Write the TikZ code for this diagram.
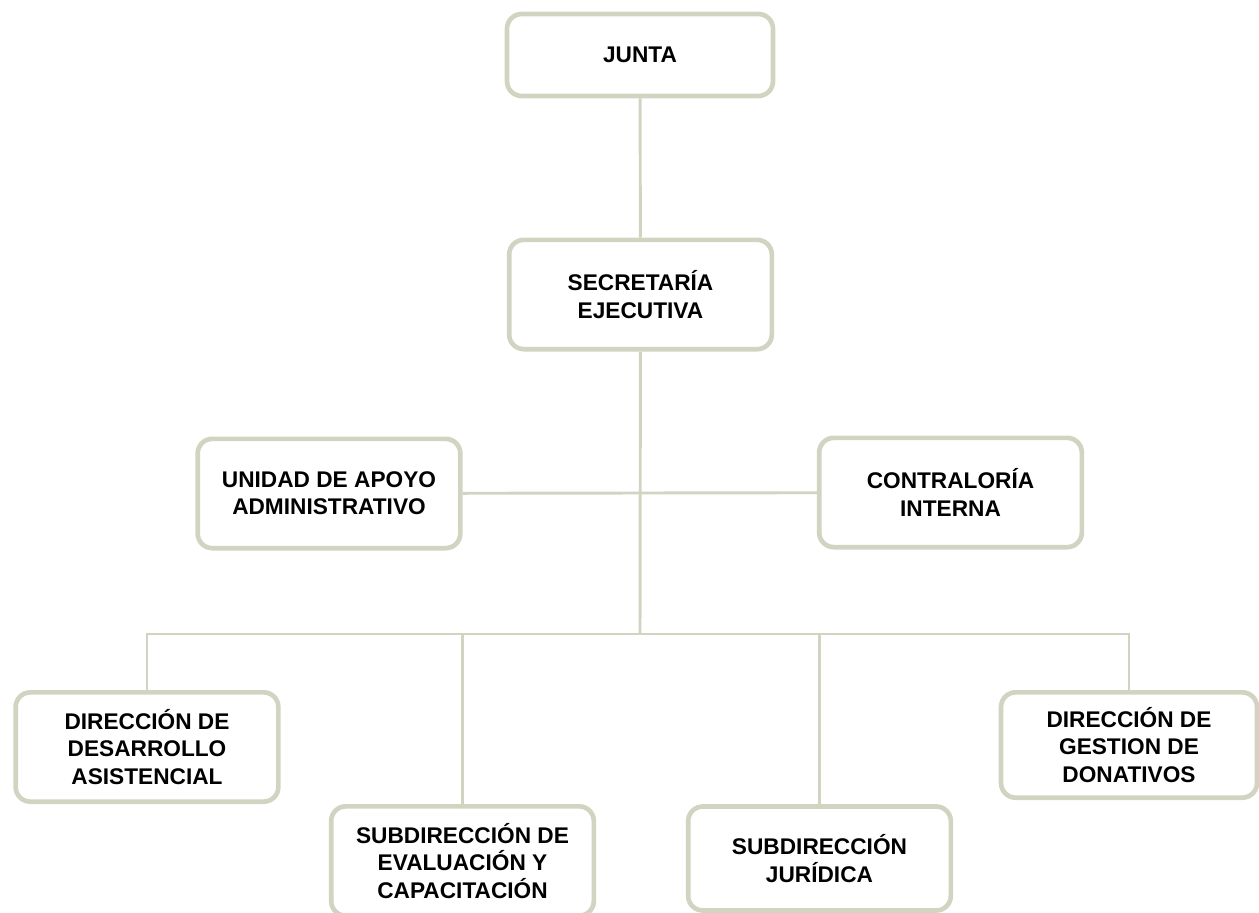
\documentclass[tikz,border=0pt]{standalone}
\usepackage{fontspec}
\setmainfont{Liberation Sans}
\usetikzlibrary{positioning}
\definecolor{boxline}{RGB}{210,212,194}
\tikzset{
    basic/.style  = {draw=boxline, line width=3.5pt, rectangle, rounded corners=11pt, fill=white,
                     font=\fontsize{17}{20.5}\selectfont\bfseries, align=center, text=black},
    unit/.style   = {basic, minimum width=197pt, minimum height=82pt},
    top/.style    = {basic, minimum width=199.5pt, minimum height=61.5pt},
    link/.style   = {draw=boxline, line width=2.2pt}
}
\begin{document}
\begin{tikzpicture}[x=0.75pt,y=-0.75pt]
    \useasboundingbox (0,0) rectangle (1259,913);
    \coordinate (bus) at (640,634);
    \node[top]  (junta)       at (640,55)      {JUNTA};
    \node[unit] (secretaria)  at (640.5,294.5) {SECRETARÍA\\EJECUTIVA};
    \node[unit] (unidad)      at (329,493.5)   {UNIDAD DE APOYO\\ADMINISTRATIVO};
    \node[unit] (contraloria) at (950.5,492.5) {CONTRALORÍA\\INTERNA};
    \node[unit] (desarrollo)  at (147,747)     {DIRECCIÓN DE\\DESARROLLO\\ASISTENCIAL};
    \node[unit] (evaluacion)  at (462.5,861)   {SUBDIRECCIÓN DE\\EVALUACIÓN Y\\CAPACITACIÓN};
    \node[unit, minimum height=78pt] (juridica) at (819.5,858.5) {SUBDIRECCIÓN\\JURÍDICA};
    \node[unit, minimum width=192pt, minimum height=79pt] (donativos) at (1129,745) {DIRECCIÓN DE\\GESTION DE\\DONATIVOS};
    % connectors
    \draw[link] (junta) -- (secretaria);
    \draw[link] (secretaria) -- (bus);
    \draw[link] (unidad) -- (contraloria);
    \draw[link] (desarrollo.north) |- (bus) -| (donativos.north);
    \draw[link] (evaluacion.north) -- (evaluacion.north |- bus);
    \draw[link] (juridica.north) -- (juridica.north |- bus);
\end{tikzpicture}
\end{document}
